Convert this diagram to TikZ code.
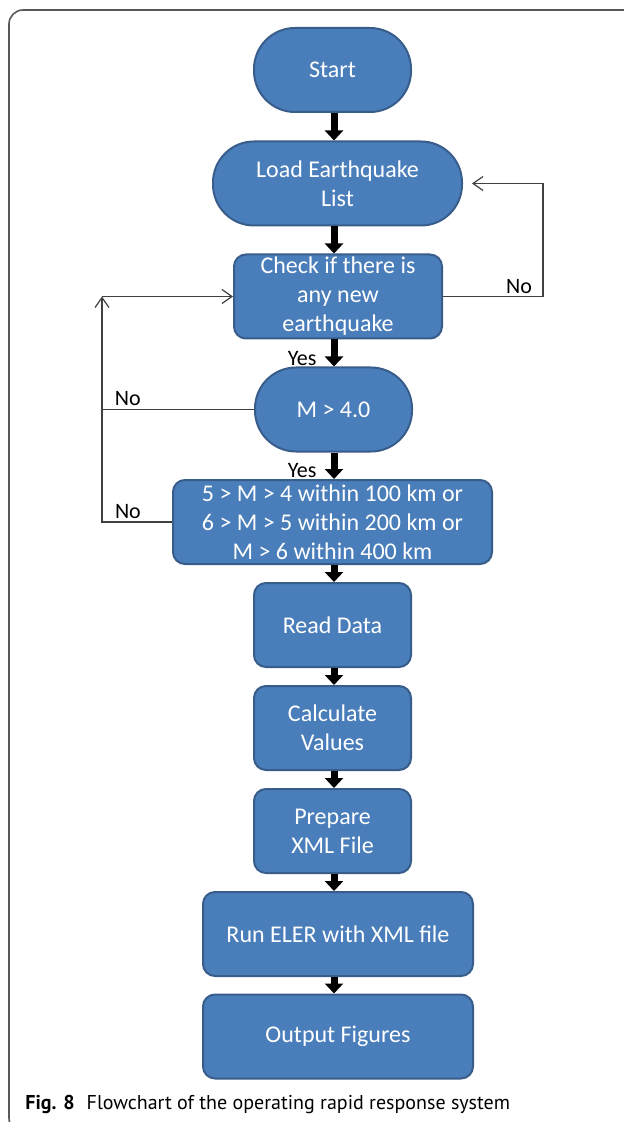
\documentclass[tikz,border=0pt]{standalone}
\usepackage{fontspec}
\setmainfont{Carlito}
\newfontfamily\capfont{PT Sans}
\usetikzlibrary{arrows.meta}
\definecolor{boxfill}{RGB}{74,126,187}
\definecolor{boxline}{RGB}{56,93,138}
\tikzset{
    box/.style={draw=boxline,fill=boxfill,line width=1pt,text=white,align=center,inner sep=0pt,font=\fontsize{12}{14.5}\selectfont},
    term/.style={box,rounded corners=20.5pt,minimum width=78.5pt,minimum height=42pt},
    proc/.style={box,rounded corners=6pt,minimum width=78.5pt,minimum height=42pt},
    tt/.style={fill=none,draw=none,text=black,inner sep=0pt,font=\fontsize{11}{13}\selectfont},
    flow/.style={draw,line width=3.5pt,-{Triangle[width=9pt,length=5pt]}},
    thin/.style={draw=black!75,line width=0.6pt},
    back/.style={thin,-{Straight Barb[length=5pt,width=7pt]}},
}

\begin{document}
\begin{tikzpicture}[x=0.5pt,y=-0.5pt]
\useasboundingbox (0,0) rectangle (624,1122);
\fill[white] (0,0) rectangle (624,1122);
\clip (0,0) rectangle (624,1122);
% outer frame, cut at the right and bottom
\draw[black!65,line width=0.8pt,rounded corners=7pt] (9,10) rectangle (660,1132);

\node[term] (start) at (332.5,70) {Start};
\node[term,minimum width=124.5pt] (load) at (337.5,183.5) {Load Earthquake\\List};
\node[proc,minimum width=104pt] (check) at (338,296.5) {Check if there is\\any new\\earthquake};
\node[term] (mag) at (333.5,409.5) {M > 4.0};
\node[proc,minimum width=159.5pt] (cond) at (332.5,522) {5 > M > 4 within 100 km or\\6 > M > 5 within 200 km or\\M > 6 within 400 km};
\node[proc] (read) at (332.5,625) {Read Data};
\node[proc] (calc) at (332.5,728) {Calculate\\Values};
\node[proc] (prep) at (332.5,831) {Prepare\\XML File};
\node[proc,minimum width=135pt] (run) at (338,934) {Run ELER with XML file};
\node[proc,minimum width=135pt] (out) at (338,1036.5) {Output Figures};

\coordinate (ax) at (334,0);
\coordinate (rt) at (543,0);
\coordinate (lf) at (102,0);

\path
(start.south -| ax) edge[flow] (load.north -| ax)
(load.south -| ax) edge[flow] (check.north -| ax)
(check.south -| ax) edge[flow] node[tt,left=7pt,pos=0.69] {Yes} (mag.north -| ax)
(mag.south -| ax) edge[flow] node[tt,left=7pt,pos=0.68] {Yes} (cond.north -| ax)
(cond.south -| ax) edge[flow] (read.north -| ax)
(read.south -| ax) edge[flow] (calc.north -| ax)
(calc.south -| ax) edge[flow] (prep.north -| ax)
(prep.south -| ax) edge[flow] (run.north -| ax)
(run.south -| ax) edge[flow] (out.north -| ax)
;

% loops back
\draw[back] (check.east) -- node[tt,above=1pt,pos=0.76] {No} (check.east -| rt) -- (load.east -| rt) -- ([xshift=4.5pt]load.east);
\draw[thin] (mag.west) -- node[tt,above=1.5pt,pos=0.83] {No} (mag.west -| lf);
\draw[back] (cond.west) -- node[tt,above=1.5pt,pos=0.63] {No} (cond.west -| lf) -- (check.west -| lf);
\draw[back] (check.west -| lf) -- (check.west);

\node[anchor=base west,inner sep=0pt,font=\capfont\fontsize{10}{12}\selectfont] (cap) at (25,1109)
  {\textbf{Fig. 8}\hspace{0.6em}Flowchart of the operating rapid response system};
\end{tikzpicture}
\end{document}
